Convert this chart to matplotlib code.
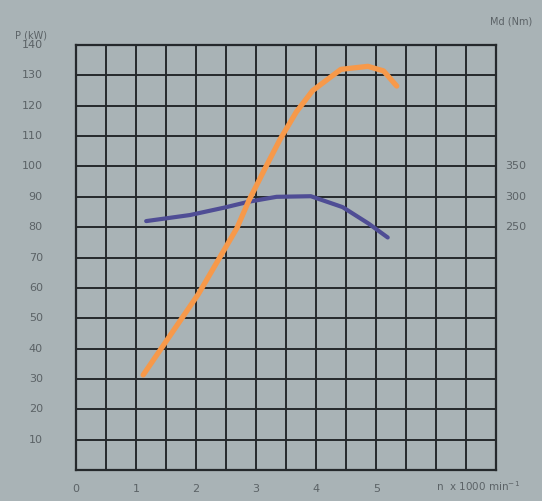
'''
Engine power and torque curves over engine speed
'''

import numpy as np
import matplotlib.pyplot as plt

# power curve, P (kW) against n (x 1000 min^-1)
power_rpm = [1.12, 2.04, 2.68, 2.88, 3.16, 3.40, 3.67, 3.94, 4.41, 4.86, 5.12, 5.34]
power_kw = [31.3, 58.0, 79.7, 88.8, 99.8, 109.0, 118.0, 125.0, 132.0, 133.0, 131.5, 126.5]

# torque curve, Md (Nm)
torque_rpm = [1.17, 1.90, 2.46, 2.88, 3.34, 3.91, 4.44, 4.87, 5.19]
torque_nm = [260, 270, 282, 292, 300, 301, 283, 256, 233]

p_ticks = list(range(10, 150, 10))
md_ticks = [250, 300, 350]
n_ticks = [0, 1, 2, 3, 4, 5]


def md_to_p(md):
    # right scale: 300 Nm sits on the 90 kW line, 50 Nm per row
    return 90 + (np.asarray(md) - 300) / 5.0


bg = '#a9b3b6'
grid_col = '#25292c'
label_col = '#5b6266'

fig = plt.figure(figsize=(5.42, 5.01), dpi=100, facecolor=bg)
ax = fig.add_axes([0.14, 0.062, 0.776, 0.848])
ax.set_facecolor(bg)

ax.set_xlim(0, 7)
ax.set_ylim(0, 140)
ax.set_xticks(np.arange(0, 7.01, 0.5))
ax.set_yticks(np.arange(0, 140.1, 10))
ax.grid(True, color=grid_col, linewidth=1.4)
for s in ax.spines.values():
    s.set_color(grid_col)
    s.set_linewidth(1.6)
ax.tick_params(length=0, labelbottom=False, labelleft=False)

# left scale labels
for p in p_ticks:
    ax.text(-0.55, p, str(p), ha='right', va='center', fontsize=8,
            color=label_col, clip_on=False)
ax.text(-0.75, 141.5, 'P (kW)', ha='center', va='bottom', fontsize=7,
        color=label_col, clip_on=False)

# bottom labels
for n in n_ticks:
    ax.text(n, -4.5, str(n), ha='center', va='top', fontsize=8,
            color=label_col, clip_on=False)
ax.text(6.0, -3.0, 'n  x 1000 min$^{-1}$', ha='left', va='top', fontsize=7.5,
        color=label_col, clip_on=False)

# right scale labels (torque)
for md in md_ticks:
    ax.text(7.15, md_to_p(md), str(md), ha='left', va='center', fontsize=8,
            color=label_col, clip_on=False)
ax.text(7.25, 146, 'Md (Nm)', ha='center', va='bottom', fontsize=7,
        color=label_col, clip_on=False)

ax.plot(torque_rpm, md_to_p(torque_nm), color='#4f4d95', linewidth=3.0,
        solid_capstyle='round', solid_joinstyle='round', zorder=3)
ax.plot(power_rpm, power_kw, color='#f7994a', linewidth=3.8,
        solid_capstyle='round', solid_joinstyle='round', zorder=4)

fig.savefig('out.png', dpi=100, facecolor=bg)
